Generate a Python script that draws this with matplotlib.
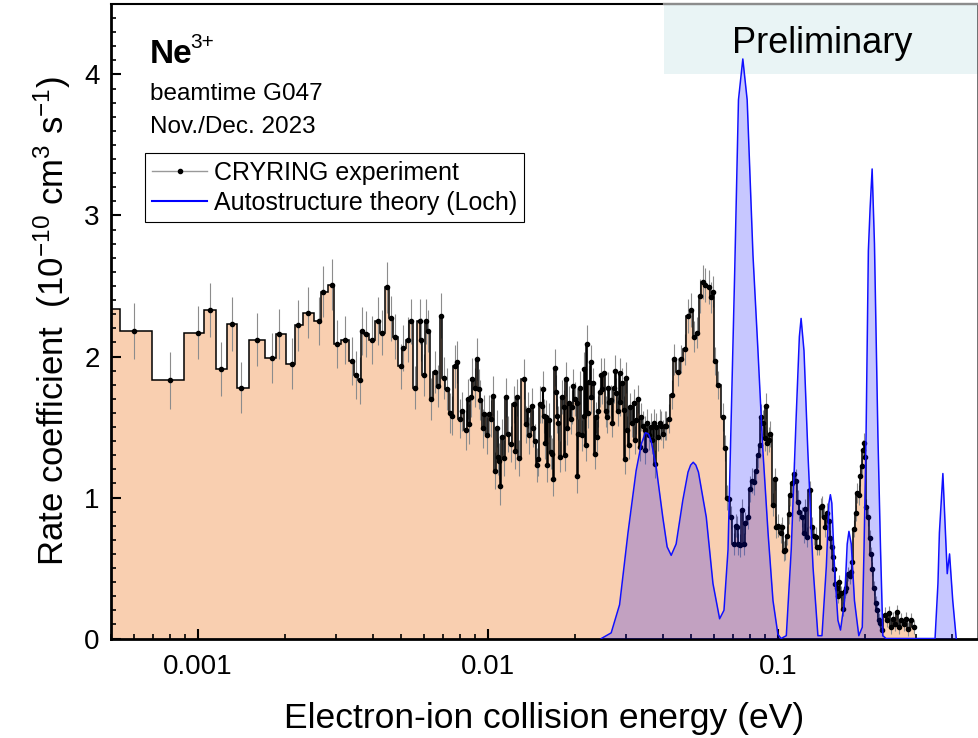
import numpy as np
import matplotlib
matplotlib.use('Agg')
import matplotlib.pyplot as plt
from matplotlib.lines import Line2D
from matplotlib.patches import Rectangle
from matplotlib.ticker import LogLocator, MultipleLocator, NullFormatter

plt.rcParams['font.family'] = ['Liberation Sans', 'DejaVu Sans']
plt.rcParams['mathtext.fontset'] = 'custom'
plt.rcParams['mathtext.rm'] = 'Liberation Sans'
plt.rcParams['mathtext.it'] = 'Liberation Sans:italic'
plt.rcParams['mathtext.bf'] = 'Liberation Sans:bold'

# CRYRING experiment: log10(energy / eV), rate coefficient (1e-10 cm^3 s^-1), error
exp_log_e = [
    -3.316, -3.221, -3.096, -2.999, -2.957, -2.920, -2.882, -2.852, -2.796, -2.744,
    -2.721, -2.675, -2.655, -2.619, -2.584, -2.569, -2.537, -2.522, -2.492, -2.469,
    -2.455, -2.443, -2.433, -2.420, -2.400, -2.379, -2.364, -2.347, -2.336, -2.320,
    -2.301, -2.292, -2.276, -2.266, -2.252, -2.236, -2.230, -2.222, -2.215, -2.207,
    -2.196, -2.181, -2.172, -2.162, -2.153, -2.141, -2.130, -2.124, -2.115, -2.107,
    -2.097, -2.089, -2.075, -2.069, -2.066, -2.058, -2.054, -2.045, -2.039, -2.031,
    -2.026, -2.017, -2.012, -2.003, -1.997, -1.989, -1.981, -1.974, -1.969, -1.964,
    -1.961, -1.957, -1.951, -1.943, -1.938, -1.931, -1.922, -1.910, -1.905, -1.899,
    -1.893, -1.876, -1.870, -1.862, -1.859, -1.847, -1.843, -1.837, -1.832, -1.828,
    -1.819,
    -1.813, -1.810, -1.807, -1.802, -1.799, -1.796, -1.791, -1.784, -1.779, -1.774,
    -1.770, -1.764, -1.762, -1.757, -1.750, -1.745, -1.739, -1.736, -1.730, -1.727,
    -1.721, -1.715, -1.710, -1.705, -1.699, -1.694, -1.692, -1.688, -1.682, -1.677,
    -1.670, -1.669, -1.663, -1.660, -1.655, -1.652, -1.646, -1.644, -1.638, -1.632,
    -1.629, -1.624, -1.619, -1.614, -1.609, -1.606, -1.600, -1.594, -1.589, -1.585,
    -1.581, -1.575, -1.571, -1.566, -1.561, -1.557, -1.552, -1.546, -1.543, -1.537,
    -1.532, -1.529, -1.523, -1.520, -1.515, -1.509, -1.503, -1.498, -1.493, -1.489,
    -1.483, -1.477, -1.471, -1.466, -1.460, -1.457, -1.451, -1.445, -1.439, -1.433,
    -1.429, -1.423, -1.419, -1.414, -1.408, -1.402, -1.397, -1.391, -1.385, -1.377,
    -1.366, -1.357, -1.343, -1.333, -1.322, -1.310, -1.299, -1.290, -1.278, -1.268,
    -1.259, -1.251, -1.239, -1.232, -1.223, -1.216, -1.207,
    -1.188, -1.182, -1.175, -1.167, -1.161, -1.153, -1.146, -1.140, -1.136, -1.130,
    -1.123, -1.117, -1.112, -1.103, -1.096, -1.089, -1.081, -1.075, -1.069, -1.063,
    -1.058, -1.052, -1.046, -1.040, -1.038, -1.032, -1.026, -1.017, -1.009, -1.006,
    -0.998, -0.991, -0.985, -0.979, -0.974, -0.968, -0.962, -0.958, -0.951, -0.943,
    -0.937, -0.931, -0.926, -0.917, -0.910, -0.905, -0.899, -0.891, -0.883, -0.876,
    -0.870, -0.864, -0.859, -0.853, -0.847, -0.841, -0.836, -0.830, -0.824, -0.819,
    -0.814, -0.810, -0.807, -0.802, -0.797, -0.793, -0.788, -0.782, -0.776, -0.770,
    -0.764, -0.759, -0.753, -0.748, -0.744, -0.739, -0.732, -0.728, -0.721, -0.716,
    -0.710, -0.707, -0.702, -0.699, -0.696, -0.690, -0.684, -0.678, -0.675, -0.669,
    -0.663, -0.659, -0.653, -0.647, -0.640, -0.632, -0.624, -0.617, -0.609, -0.603,
    -0.596, -0.589, -0.581, -0.574, -0.566, -0.558, -0.550, -0.540, -0.532,
]
exp_rate = [
    2.34, 2.18, 1.83, 2.17, 2.33, 1.91, 2.23, 1.78, 2.12, 1.99,
    2.16, 1.95, 2.22, 2.31, 2.25, 2.46, 2.51, 2.09, 2.12, 1.97,
    1.87, 1.83, 2.18, 2.16, 2.12, 2.25, 2.17, 2.49, 2.27, 2.14,
    1.93, 2.06, 2.12, 2.25, 1.78, 2.25, 2.12, 1.87, 2.25, 2.18,
    1.70, 1.89, 1.79, 2.29, 1.85, 1.77, 1.60, 1.58, 1.93, 1.96,
    1.56, 1.61, 1.48, 1.70, 1.52, 1.71, 1.84, 1.78, 1.98, 1.77,
    1.69, 1.49, 1.59, 1.44, 1.59, 1.56, 1.72, 1.19, 1.49, 1.29,
    1.26, 1.08, 1.43, 1.28, 1.71, 1.45, 1.38, 1.66, 1.33, 1.71,
    1.28, 1.84, 1.52, 1.62, 1.44, 1.65, 1.49, 1.40, 1.23, 1.27,
    1.66,
    1.65, 1.77, 1.58, 1.39, 1.57, 1.23, 1.55, 1.32, 1.31, 1.13,
    1.92, 1.75, 1.58, 1.53, 1.29, 1.71, 1.64, 1.30, 1.84, 1.49,
    1.67, 1.56, 1.64, 1.79, 1.70, 1.67, 1.15, 1.45, 1.78, 1.44,
    1.58, 1.91, 1.37, 2.09, 1.60, 1.82, 1.96, 1.71, 1.81, 1.31,
    1.57, 1.43, 1.61, 1.75, 1.87, 1.77, 1.88, 1.61, 1.57, 1.78,
    1.68, 1.69, 1.53, 1.78, 1.90, 1.74, 1.61, 1.88, 1.68, 1.81,
    1.62, 1.27, 1.85, 1.48, 1.37, 1.64, 1.53, 1.67, 1.41, 1.55,
    1.70, 1.36, 1.57, 1.51, 1.48, 1.34, 1.53, 1.44, 1.50, 1.41,
    1.53, 1.24, 1.50, 1.43, 1.53, 1.51, 1.45, 1.51, 1.51, 1.56,
    1.73, 1.98, 1.89, 1.98, 2.05, 2.29, 2.33, 2.14, 2.17, 2.43,
    2.53, 2.51, 2.49, 2.42, 2.46, 1.97, 1.80,
    1.57, 1.35, 1.00, 0.99, 0.86, 0.67, 0.80, 0.79, 0.67, 0.66,
    0.91, 0.67, 0.82, 0.86, 1.06, 1.12, 1.11, 1.19, 1.30, 1.37,
    1.57, 1.53, 1.42, 1.65, 1.39, 1.41, 1.45, 0.95, 1.13, 0.79,
    0.80, 0.75, 0.79, 0.62, 0.63, 0.73, 0.88, 1.02, 1.10, 1.17,
    1.12, 0.97, 0.90, 0.86, 0.75, 0.92, 0.72, 1.05, 0.79, 0.73,
    0.72, 0.65, 0.65, 0.93, 0.94, 0.86, 0.79, 0.89, 0.83, 0.71,
    0.65, 0.58, 0.49, 0.39, 0.36, 0.30, 0.40, 0.32, 0.21, 0.34,
    0.36, 0.46, 0.44, 0.47, 0.54, 0.78, 0.89, 1.03, 1.02, 1.15,
    1.22, 1.34, 1.39, 1.29, 0.93, 0.86, 0.71, 0.60, 0.49, 0.36,
    0.25, 0.20, 0.13, 0.11, 0.06, 0.17, 0.13, 0.18, 0.08, 0.14,
    0.10, 0.19, 0.08, 0.13, 0.10, 0.14, 0.07, 0.13, 0.08,
]
exp_err = [
    0.20, 0.20, 0.20, 0.19, 0.19, 0.19, 0.19, 0.18, 0.19, 0.18,
    0.18, 0.18, 0.18, 0.18, 0.17, 0.18, 0.18, 0.17, 0.17, 0.17,
    0.17, 0.17, 0.17, 0.16, 0.17, 0.17, 0.16, 0.18, 0.16, 0.16,
    0.16, 0.16, 0.16, 0.16, 0.15, 0.16, 0.15, 0.15, 0.16, 0.15,
    0.15, 0.15, 0.15, 0.16, 0.15, 0.15, 0.14, 0.14, 0.15, 0.15,
    0.14, 0.14, 0.14, 0.14, 0.14, 0.14, 0.15, 0.14, 0.15, 0.14,
    0.14, 0.14, 0.14, 0.13, 0.14, 0.13, 0.14, 0.13, 0.13, 0.13,
    0.13, 0.13, 0.13, 0.13, 0.14, 0.13, 0.13, 0.13, 0.13, 0.13,
    0.13, 0.14, 0.13, 0.13, 0.13, 0.13, 0.13, 0.12, 0.12, 0.12,
    0.13,
    0.12, 0.13, 0.12, 0.12, 0.12, 0.12, 0.12, 0.12, 0.11, 0.12,
    0.13, 0.12, 0.12, 0.12, 0.11, 0.12, 0.12, 0.11, 0.12, 0.12,
    0.12, 0.11, 0.12, 0.12, 0.12, 0.11, 0.12, 0.11, 0.12, 0.11,
    0.11, 0.12, 0.11, 0.13, 0.11, 0.12, 0.12, 0.11, 0.11, 0.11,
    0.11, 0.11, 0.11, 0.11, 0.12, 0.11, 0.11, 0.11, 0.11, 0.11,
    0.11, 0.11, 0.10, 0.11, 0.11, 0.11, 0.10, 0.11, 0.10, 0.11,
    0.10, 0.10, 0.11, 0.10, 0.10, 0.10, 0.10, 0.10, 0.10, 0.10,
    0.10, 0.10, 0.10, 0.10, 0.10, 0.10, 0.10, 0.10, 0.10, 0.10,
    0.10, 0.10, 0.10, 0.10, 0.10, 0.10, 0.10, 0.10, 0.10, 0.10,
    0.10, 0.11, 0.10, 0.10, 0.11, 0.12, 0.12, 0.11, 0.11, 0.12,
    0.12, 0.12, 0.12, 0.11, 0.11, 0.10, 0.10,
    0.10, 0.09, 0.09, 0.09, 0.08, 0.08, 0.08, 0.08, 0.08, 0.08,
    0.08, 0.08, 0.08, 0.08, 0.09, 0.09, 0.09, 0.09, 0.09, 0.09,
    0.09, 0.09, 0.09, 0.09, 0.09, 0.09, 0.09, 0.08, 0.08, 0.08,
    0.08, 0.07, 0.07, 0.07, 0.07, 0.07, 0.07, 0.08, 0.08, 0.08,
    0.08, 0.08, 0.07, 0.07, 0.07, 0.07, 0.07, 0.07, 0.07, 0.07,
    0.07, 0.06, 0.06, 0.07, 0.07, 0.07, 0.07, 0.07, 0.06, 0.06,
    0.06, 0.06, 0.06, 0.05, 0.05, 0.05, 0.05, 0.05, 0.05, 0.05,
    0.05, 0.05, 0.05, 0.05, 0.05, 0.06, 0.06, 0.07, 0.07, 0.07,
    0.07, 0.07, 0.07, 0.07, 0.06, 0.06, 0.06, 0.05, 0.05, 0.05,
    0.05, 0.05, 0.05, 0.04, 0.04, 0.05, 0.05, 0.05, 0.05, 0.05,
    0.05, 0.05, 0.05, 0.05, 0.05, 0.05, 0.05, 0.05, 0.05,
]

# Autostructure theory (Loch): log10(energy / eV), rate coefficient
th_log_e = [
    -1.609, -1.575, -1.546, -1.517, -1.489, -1.471, -1.457, -1.446, -1.437, -1.420,
    -1.397, -1.382, -1.368, -1.351, -1.328, -1.310, -1.301, -1.292, -1.283, -1.274,
    -1.247, -1.224, -1.201, -1.186, -1.172, -1.161, -1.149, -1.136, -1.121, -1.106,
    -1.086, -1.069, -1.052, -1.034, -1.017, -1.000, -0.989, -0.971, -0.954, -0.937,
    -0.926, -0.920, -0.910, -0.897, -0.879, -0.862, -0.848, -0.833, -0.824, -0.819,
    -0.814, -0.805, -0.793, -0.784, -0.770, -0.761, -0.755, -0.747, -0.736, -0.721,
    -0.709, -0.703, -0.696, -0.688, -0.682, -0.675, -0.667, -0.655, -0.646, -0.638,
    -0.627, -0.458, -0.448, -0.443, -0.431, -0.416, -0.408, -0.397, -0.385,
]
th_rate = [
    0.00, 0.04, 0.24, 0.75, 1.19, 1.38, 1.46, 1.45, 1.40, 1.22,
    0.86, 0.65, 0.59, 0.67, 0.98, 1.18, 1.23, 1.25, 1.23, 1.18,
    0.86, 0.39, 0.14, 0.20, 0.63, 1.57, 2.60, 3.82, 4.11, 3.82,
    2.72, 2.05, 1.34, 0.75, 0.27, 0.03, 0.00, 0.02, 0.63, 1.57,
    2.14, 2.27, 2.04, 1.34, 0.51, 0.02, 0.02, 0.51, 0.96, 1.02,
    0.96, 0.51, 0.13, 0.06, 0.27, 0.67, 0.76, 0.67, 0.27, 0.02,
    0.08, 0.63, 1.43, 2.75, 3.05, 3.33, 2.80, 1.43, 0.63, 0.02,
    0.00, 0.00, 0.39, 0.75, 1.17, 0.46, 0.60, 0.27, 0.00,
]

x_ticks = [0.001, 0.01, 0.1]
x_ticklabels = ['0.001', '0.01', '0.1']
y_ticks = [0, 1, 2, 3, 4]

orange = '#f9cfb0'

le = np.array(exp_log_e)
energy = 10 ** le
rate = np.array(exp_rate)
err = np.array(exp_err)

# bin edges half way between points (in log energy)
mid = (le[:-1] + le[1:]) / 2
edges = np.concatenate([[le[0] - (le[1] - le[0]) / 2], mid, [le[-1] + (le[-1] - le[-2]) / 2]])
edges = 10 ** edges

th_e = 10 ** np.array(th_log_e)
th_r = np.array(th_rate)

fig = plt.figure(figsize=(9.79, 7.38), dpi=100)
ax = fig.add_axes([0.1131, 0.1348, 0.8859, 0.8598])

ax.add_patch(Rectangle((0.638, 0.8897), 0.362, 0.1103, transform=ax.transAxes,
                       facecolor='#e9f4f5', edgecolor='none', zorder=0.5))

ax.stairs(rate, edges, baseline=0, fill=True, color=orange, lw=0, zorder=1)
ax.errorbar(energy, rate, yerr=err, fmt='none', ecolor='0.55', elinewidth=0.8, zorder=2)
ax.stairs(rate, edges, baseline=None, color='k', lw=1.1, zorder=3)
ax.plot(energy, rate, 'o', ms=3, color='k', zorder=4)

ax.fill_between(th_e, th_r, 0, color='blue', alpha=0.22, lw=0, zorder=5)
ax.plot(th_e, th_r, color='#1010ff', lw=1.1, zorder=6)

ax.set_xscale('log')
ax.set_xlim(5e-4, 0.49)
ax.set_ylim(0, 4.5)
ax.set_xticks(x_ticks)
ax.set_xticklabels(x_ticklabels)
ax.xaxis.set_minor_locator(LogLocator(base=10, subs=np.arange(2, 10)))
ax.xaxis.set_minor_formatter(NullFormatter())
ax.set_yticks(y_ticks)
ax.yaxis.set_minor_locator(MultipleLocator(0.1))

ax.tick_params(which='both', direction='in', top=False, right=False, labelsize=20)
ax.tick_params(which='major', length=7, width=1.5)
ax.tick_params(which='minor', length=3.5, width=1.2)
ax.tick_params(axis='x', which='major', pad=11)
ax.tick_params(axis='y', which='major', pad=8)

for s in ['left', 'bottom']:
    ax.spines[s].set_linewidth(2)
ax.spines['top'].set_linewidth(1.5)
ax.spines['right'].set_linewidth(1.2)
ax.spines['right'].set_color('0.35')
ax.plot([0.638, 1.0], [1.0, 1.0], transform=ax.transAxes, color='0.55', lw=1.6,
        clip_on=False, zorder=3)

ax.set_xlabel('Electron-ion collision energy (eV)', fontsize=25.5, labelpad=16)
ax.set_ylabel('Rate coefficient  (10$^{-10}$ cm$^{3}$ s$^{-1}$)', fontsize=25, labelpad=8)

ax.text(0.0453, 0.907, 'Ne', transform=ax.transAxes, fontsize=24,
        fontweight='bold', va='baseline')
ax.text(0.0915, 0.930, '3+', transform=ax.transAxes, fontsize=15, va='baseline')
ax.text(0.0453, 0.8487, 'beamtime G047', transform=ax.transAxes, fontsize=17.5, va='baseline')
ax.text(0.0453, 0.7967, 'Nov./Dec. 2023', transform=ax.transAxes, fontsize=17.5, va='baseline')
ax.text(0.8207, 0.9223, 'Preliminary', transform=ax.transAxes, fontsize=26,
        ha='center', va='baseline', zorder=7)

h1 = Line2D([], [], color='0.6', lw=1, marker='o', ms=3, mfc='k', mec='k')
h2 = Line2D([], [], color='blue', lw=1.5)
leg = ax.legend([h1, h2], ['CRYRING experiment', 'Autostructure theory (Loch)'],
                loc='upper left', bbox_to_anchor=(0.0395, 0.765), borderaxespad=0,
                fontsize=18, frameon=True, fancybox=False, edgecolor='k',
                framealpha=1, borderpad=0.3, handlelength=2.2, handletextpad=0.25,
                labelspacing=0.25)
leg.get_frame().set_linewidth(0.8)
leg.set_zorder(8)

fig.savefig('out.png', dpi=100)
